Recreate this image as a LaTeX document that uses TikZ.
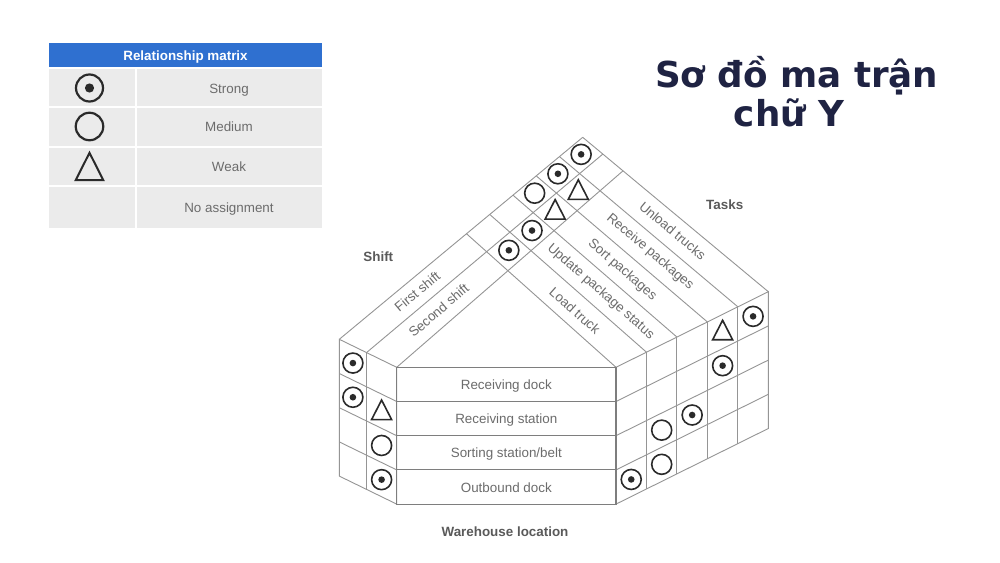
\documentclass[tikz,border=0pt]{standalone}
\usepackage{fontspec}
\setmainfont{Liberation Sans}
\newfontfamily\titlefont{DejaVu Sans}
\usetikzlibrary{calc}
\definecolor{gridc}{HTML}{959595}
\definecolor{frontc}{HTML}{7E7E7E}
\definecolor{txtc}{HTML}{6C6C6C}
\definecolor{labc}{HTML}{5A5A5A}
\definecolor{symc}{HTML}{2A2A2A}
\definecolor{titlec}{HTML}{1F2343}
\definecolor{headc}{HTML}{2F70D0}
\definecolor{cellc}{HTML}{EBEBEB}
\newcommand\weakmark[2]{\draw[weakS] ($(#1)+(-#2,0.83*#2)$) -- ($(#1)+(#2,0.83*#2)$) -- ($(#1)+(0,-1.12*#2)$) -- cycle;}
\begin{document}
\begin{tikzpicture}[x=1pt,y=-1pt,
  grid/.style={draw=gridc,line width=0.9pt},
  front/.style={draw=frontc,line width=1.1pt},
  lbl/.style={text=txtc,font=\fontsize{13.4}{16}\selectfont,inner sep=0pt},
  head/.style={text=labc,font=\bfseries\fontsize{13.4}{16}\selectfont,inner sep=0pt},
  strongS/.style={circle,draw=symc,line width=1.6pt,minimum size=20pt,inner sep=0pt,
     path picture={\fill[symc] (path picture bounding box.center) circle[radius=3.3pt];}},
  mediumS/.style={circle,draw=symc,line width=1.6pt,minimum size=20pt,inner sep=0pt},
  weakS/.style={draw=symc,line width=1.6pt,line join=miter},
  bigstrong/.style={circle,draw=symc,line width=2.2pt,minimum size=27pt,inner sep=0pt,
     path picture={\fill[symc] (path picture bounding box.center) circle[radius=4.6pt];}},
  bigmedium/.style={circle,draw=symc,line width=2.2pt,minimum size=27.5pt,inner sep=0pt},
  cellbox/.style={fill=cellc,draw=none},
]
\useasboundingbox (0,0) rectangle (1000,562);
\fill[white] (0,0) rectangle (1000,562);

% ---------- legend ----------
\fill[headc] (49,42.5) rectangle (322,67.3);
\node[text=white,font=\bfseries\fontsize{13.4}{16}\selectfont,inner sep=0pt,anchor=base] (lhead) at (185.5,60.5) {Relationship matrix};
\foreach \ya/\yb in {68.8/106.2,107.8/146.2,147.8/185.4,187/227.7}{
  \fill[cellbox] (49,\ya) rectangle (135.3,\yb);
  \fill[cellbox] (136.8,\ya) rectangle (322,\yb);
}
\node[bigstrong] (lstrong) at (89.5,88) {};
\node[bigmedium] (lmedium) at (89.5,126.5) {};
\draw[weakS,line width=2pt] (75.8,180) -- (103.2,180) -- (89.5,152.8) -- cycle;
\node[lbl,anchor=base] (tstrong) at (229,93.3) {Strong};
\node[lbl,anchor=base] (tmedium) at (229,131.7) {Medium};
\node[lbl,anchor=base] (tweak) at (229,171) {Weak};
\node[lbl,anchor=base] (tnone) at (229,212.3) {No assignment};

% ---------- title ----------
\node[text=titlec,font=\titlefont\bfseries\fontsize{35.7}{40}\selectfont,inner sep=0pt,anchor=base] (title1) at (796.7,87.7) {Sơ đồ ma trận};
\node[text=titlec,font=\titlefont\bfseries\fontsize{35.7}{40}\selectfont,inner sep=0pt,anchor=base] (title2) at (789,126) {chữ Y};

% ---------- key points ----------
\coordinate (SL0) at (339.3,339.3);
\coordinate (SL1) at (366.5,352.6);
\coordinate (SL2) at (396.7,367.3);
\coordinate (T) at (582.7,137.3);
\foreach \j in {0,...,5} \coordinate (SR\j) at ({616+30.46*\j},{367.3-15.12*\j});
\foreach \i in {0,1,2} \coordinate (EL\i) at ($(SR5)!{1-0.10855*\i}!(T)$);
\foreach \j in {0,...,5} \coordinate (ER\j) at ($(SL0)!{0.5226+0.09548*\j}!(T)$);

% ---------- roof ----------
\foreach \i in {0,1,2} \draw[grid] (SL\i) -- (EL\i);
\foreach \j in {0,...,5} \draw[grid] (SR\j) -- (ER\j);

% ---------- left face ----------
\draw[grid] (SL0) -- (SL2) -- ++(0,136.8) -- ($(SL0)+(0,136.8)$) -- cycle;
\draw[grid] (SL1) -- ++(0,136.8);
\foreach \r in {1,2,3} \draw[grid] ($(SL0)+(0,34.2*\r)$) -- ($(SL2)+(0,34.2*\r)$);
% ---------- right face ----------
\draw[grid] (SR0) -- (SR5) -- ++(0,136.8) -- ($(SR0)+(0,136.8)$) -- cycle;
\foreach \j in {1,...,4} \draw[grid] (SR\j) -- ++(0,136.8);
\foreach \r in {1,2,3} \draw[grid] ($(SR0)+(0,34.2*\r)$) -- ($(SR5)+(0,34.2*\r)$);
% ---------- front face ----------
\draw[front] (SL2) rectangle ($(SR0)+(0,136.8)$);
\foreach \r in {1,2,3} \draw[front] ($(SL2)+(0,34.2*\r)$) -- ($(SR0)+(0,34.2*\r)$);

% ---------- texts ----------
\node[lbl,anchor=base] (w0) at (506.3,389.4) {Receiving dock};
\node[lbl,anchor=base] (w1) at (506.3,423.6) {Receiving station};
\node[lbl,anchor=base] (w2) at (506.3,457.8) {Sorting station/belt};
\node[lbl,anchor=base] (w3) at (506.3,492.0) {Outbound dock};
\node[lbl,rotate=39.7] (s0) at (417.3,291.7) {First shift};
\node[lbl,rotate=40.4] (s1) at (438.7,310.3) {Second shift};
\node[lbl,rotate=-40] (k4) at (672.7,230.7) {Unload trucks};
\node[lbl,rotate=-40.4] (k3) at (650,252) {Receive packages};
\node[lbl,rotate=-40.8] (k2) at (622.3,270) {Sort packages};
\node[lbl,rotate=-41.2] (k1) at (600.7,291.7) {Update package status};
\node[lbl,rotate=-41.6] (k0) at (575,310.5) {Load truck};
\node[head,anchor=base] (hshift) at (378.3,261.7) {Shift};
\node[head,anchor=base] (htasks) at (724.7,209.3) {Tasks};
\node[head,anchor=base] (hware) at (505,536.7) {Warehouse location};

% ---------- cell centres ----------
\foreach \i/\k in {0/1,1/2}{
  \coordinate (mLa\i) at ($(SL\i)!.5!(SL\k)$);
  \coordinate (mLb\i) at ($(EL\i)!.5!(EL\k)$);
}
\foreach \j/\k in {0/1,1/2,2/3,3/4,4/5}{
  \coordinate (mRa\j) at ($(SR\j)!.5!(SR\k)$);
  \coordinate (mRb\j) at ($(ER\j)!.5!(ER\k)$);
}
\coordinate (rc10) at (intersection of mLa1--mLb1 and mRa0--mRb0);
\coordinate (rc11) at (intersection of mLa1--mLb1 and mRa1--mRb1);
\coordinate (rc12) at (intersection of mLa1--mLb1 and mRa2--mRb2);
\coordinate (rc13) at (intersection of mLa1--mLb1 and mRa3--mRb3);
\coordinate (rc02) at (intersection of mLa0--mLb0 and mRa2--mRb2);
\coordinate (rc03) at (intersection of mLa0--mLb0 and mRa3--mRb3);
\coordinate (rc04) at (intersection of mLa0--mLb0 and mRa4--mRb4);

% ---------- symbols: roof ----------
\node[strongS] (y10) at ($(rc10)+(0,-1)$) {};
\node[strongS] (y11) at ($(rc11)+(0,-1)$) {};
\weakmark{$(rc12)+(0,-1)$}{10}
\weakmark{$(rc13)+(0,-1)$}{10}
\node[mediumS] (y02) at ($(rc02)+(0,-1)$) {};
\node[strongS] (y03) at ($(rc03)+(0,-1)$) {};
\node[strongS] (y04) at ($(rc04)+(0,-1)$) {};

% ---------- symbols: left face ----------
\node[strongS] (l00) at ($(mLa0)+(0,17.1)$) {};
\node[strongS] (l01) at ($(mLa0)+(0,51.3)$) {};
\weakmark{$(mLa1)+(0,51.3)$}{10}
\node[mediumS] (l12) at ($(mLa1)+(0,85.5)$) {};
\node[strongS] (l13) at ($(mLa1)+(0,119.7)$) {};

% ---------- symbols: right face ----------
\node[strongS] (r40) at ($(mRa4)+(0,17.1)$) {};
\weakmark{$(mRa3)+(0,17.1)$}{10}
\node[strongS] (r31) at ($(mRa3)+(0,51.3)$) {};
\node[strongS] (r22) at ($(mRa2)+(0,85.5)$) {};
\node[mediumS] (r12) at ($(mRa1)+(0,85.5)$) {};
\node[mediumS] (r13) at ($(mRa1)+(0,119.7)$) {};
\node[strongS] (r03) at ($(mRa0)+(0,119.7)$) {};
\end{tikzpicture}
\end{document}
